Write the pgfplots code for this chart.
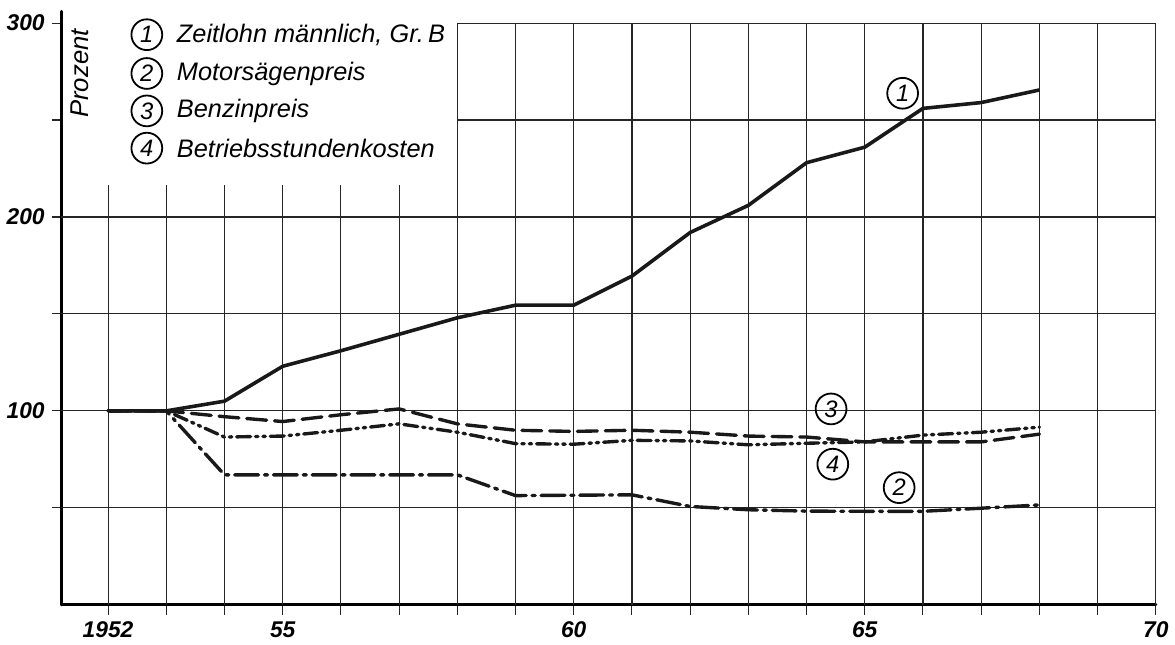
\documentclass[border=0pt]{standalone}
\usepackage{fontspec}
\setmainfont{Liberation Sans}
\usepackage{pgfplots}
\pgfplotsset{compat=1.18}

\begin{document}
\begin{tikzpicture}
\tikzset{
  gridline/.style={line width=0.55bp, black!85},
  numcirc/.style={circle, draw, line width=0.9bp, inner sep=0pt, minimum size=15.5bp,
    font=\fontsize{12}{12}\selectfont\itshape},
  legtext/.style={anchor=west, inner sep=0pt, font=\fontsize{12.8}{12.8}\selectfont\itshape},
}
\begin{axis}[
  x=29.3bp, y=0.976bp,
  xmin=1951.2, xmax=1970, ymin=0, ymax=306,
  axis x line=bottom, axis y line=left,
  axis line style={-, line width=1.5bp, line cap=round},
  xtick={1952,...,1970},
  xticklabels={1952,,,55,,,,,60,,,,,65,,,,,70},
  ytick={50,100,...,300},
  yticklabels={,100,,200,,300},
  tick align=outside, major tick length=5bp,
  tick style={line width=0.55bp, black!85},
  xticklabel style={font=\fontsize{11.5}{11.5}\selectfont\bfseries\itshape},
  yticklabel style={font=\fontsize{11.5}{11.5}\selectfont\bfseries\itshape},
  clip=false,
]
% grid (the top left corner is kept free for the key)
\pgfplotsinvokeforeach{1952,...,1957}{\draw[gridline] (axis cs:#1,0) -- (axis cs:#1,216.7);}
\pgfplotsinvokeforeach{1958,...,1970}{\draw[gridline] (axis cs:#1,0) -- (axis cs:#1,300);}
\pgfplotsinvokeforeach{50,100,150,200}{\draw[gridline] (axis cs:1951.2,#1) -- (axis cs:1970,#1);}
\pgfplotsinvokeforeach{250,300}{\draw[gridline] (axis cs:1958,#1) -- (axis cs:1970,#1);}

% 2 Motorsaegenpreis
\addplot[black!90, line width=1.7bp, line cap=round,
  dash pattern=on 12bp off 3bp on 1.5bp off 3bp] coordinates {
  (1952,100) (1953,100) (1954,67) (1955,67) (1956,67) (1957,67) (1958,67)
  (1959,56.3) (1960,56.5) (1961,56.7) (1962,50.7) (1963,49) (1964,48.3)
  (1965,48.2) (1966,48.2) (1967,49.8) (1968,51.5)};
% 3 Benzinpreis
\addplot[black!90, line width=1.7bp, line cap=round,
  dash pattern=on 10bp off 4bp] coordinates {
  (1952,100) (1953,100) (1954,97) (1955,94.5) (1956,98) (1957,101) (1958,93.3)
  (1959,90) (1960,89.4) (1961,90) (1962,89) (1963,87) (1964,86.5)
  (1965,84) (1966,84) (1967,84) (1968,88)};
% 4 Betriebsstundenkosten
\addplot[black!90, line width=1.7bp, line cap=round,
  dash pattern=on 7bp off 2.5bp on 1.2bp off 2.5bp on 1.2bp off 2.5bp] coordinates {
  (1952,100) (1953,100) (1954,86.5) (1955,87) (1956,90) (1957,93.3) (1958,89)
  (1959,83.1) (1960,82.8) (1961,84.8) (1962,84.5) (1963,82.5) (1964,83.3)
  (1965,84) (1966,87.5) (1967,89) (1968,91.6)};
% 1 Zeitlohn
\addplot[black!90, line width=1.8bp, line join=round] coordinates {
  (1952,100) (1953,100) (1954,105) (1955,123) (1956,131) (1957,139.5) (1958,148)
  (1959,154.5) (1960,154.5) (1961,169.5) (1962,192) (1963,206) (1964,228)
  (1965,236) (1966,256) (1967,259) (1968,265.5)};

% key
\node[numcirc] at (axis cs:1952.666,294) {1};
\node[numcirc] at (axis cs:1952.666,274) {2};
\node[numcirc] at (axis cs:1952.666,254.7) {3};
\node[numcirc] at (axis cs:1952.666,235.5) {4};
\node[legtext] at (axis cs:1953.177,294) {Zeitlohn männlich, Gr.\,B};
\node[legtext] at (axis cs:1953.177,274) {Motorsägenpreis};
\node[legtext] at (axis cs:1953.177,254.7) {Benzinpreis};
\node[legtext] at (axis cs:1953.177,235.5) {Betriebsstundenkosten};
\node[rotate=90, font=\fontsize{13}{13}\selectfont\itshape] at (axis cs:1951.51,274) {Prozent};

% curve labels
\node[numcirc] at (axis cs:1965.65,263.8) {1};
\node[numcirc] at (axis cs:1965.59,60.4) {2};
\node[numcirc] at (axis cs:1964.42,101) {3};
\node[numcirc] at (axis cs:1964.45,72.5) {4};

% page frame
\path (axis cs:1950.162,-16.4) rectangle (axis cs:1970.213,311.9);
\end{axis}
\end{tikzpicture}
\end{document}
